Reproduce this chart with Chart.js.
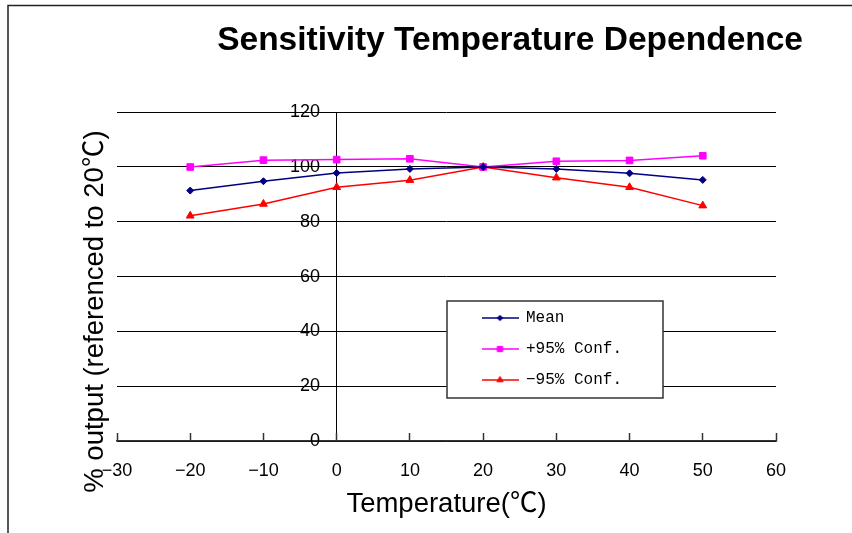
<!DOCTYPE html>
<html>
<head>
<meta charset="utf-8">
<script src="https://cdn.jsdelivr.net/npm/chart.js@4/dist/chart.umd.min.js"></script>
<style>
  html, body { margin: 0; padding: 0; background: #fff; }
  canvas { display: block; }
</style>
</head>
<body>
<canvas id="chart" width="852" height="533"></canvas>
<script>
// ---------------- data ----------------
const temperatures   = [-20, -10, 0, 10, 20, 30, 40, 50];
const meanValues     = [91.4, 94.8, 97.8, 99.3, 100, 99.3, 97.7, 95.3];
const plus95Values   = [100.0, 102.5, 102.7, 103.0, 100, 102.1, 102.4, 104.1];
const minus95Values  = [82.2, 86.5, 92.6, 95.2, 100, 96.1, 92.6, 85.9];
const seriesNames    = ['Mean', '+95% Conf.', '\u221295% Conf.'];
const xAxisRange     = [-30, 60, 10];   // min, max, step
const yAxisRange     = [0, 120, 20];    // min, max, step
const chartTitle     = 'Sensitivity Temperature Dependence';
const xAxisTitle     = 'Temperature(\u2103)';
const yAxisTitle     = '% output (referenced to 20\u2103)';

// ---------------- styling ----------------
const SANS = '"Liberation Sans", Arial, "Noto Sans CJK SC", sans-serif';
const MONO = '"Liberation Mono", "Courier New", monospace';
const seriesColors = ['#000080', '#FF00FF', '#FF0000'];
const seriesStyles = ['rectRot', 'rect', 'triangle'];
const seriesRadius = [3.5, 4.7, 4.5];
const LEGEND_FRAME = { left: 447, top: 301, right: 663, bottom: 398 };

Chart.defaults.color = '#000';
Chart.defaults.font.family = SANS;

function toPoints(values) {
  return temperatures.map((t, i) => ({ x: t, y: values[i] }));
}

function drawMarker(g, style, r, x, y) {
  g.beginPath();
  if (style === 'rectRot') {
    g.moveTo(x, y - r); g.lineTo(x + r, y); g.lineTo(x, y + r); g.lineTo(x - r, y);
  } else if (style === 'rect') {
    const s = Math.SQRT1_2 * r;
    g.rect(x - s, y - s, 2 * s, 2 * s);
  } else {
    const w = r * Math.sqrt(3) / 2;
    g.moveTo(x, y - r); g.lineTo(x + w, y + r / 2); g.lineTo(x - w, y + r / 2);
  }
  g.closePath();
  g.fill();
  g.stroke();
}

function legendSymbol(i) {
  const c = document.createElement('canvas');
  c.width = 37; c.height = 14;
  const g = c.getContext('2d');
  g.strokeStyle = seriesColors[i];
  g.fillStyle = seriesColors[i];
  g.lineWidth = 1.5;
  g.beginPath(); g.moveTo(0, 7); g.lineTo(37, 7); g.stroke();
  g.lineWidth = 1;
  drawMarker(g, seriesStyles[i], seriesRadius[i] * 0.8, 18.5, 7);
  return c;
}
const legendSymbols = [0, 1, 2].map(legendSymbol);

const seriesData = [meanValues, plus95Values, minus95Values];
const datasets = seriesData.map((vals, i) => ({
  label: seriesNames[i],
  data: toPoints(vals),
  borderColor: seriesColors[i],
  backgroundColor: seriesColors[i],
  borderWidth: 1.5,
  pointStyle: seriesStyles[i],
  pointRadius: seriesRadius[i],
  pointBorderWidth: 1,
  pointBackgroundColor: seriesColors[i],
  pointBorderColor: seriesColors[i],
  tension: 0,
  fill: false
}));

// ---------------- plugins ----------------
const outerFrame = {
  id: 'outerFrame',
  beforeDraw(chart) {
    const ctx = chart.ctx;
    ctx.save();
    ctx.fillStyle = '#fff';
    ctx.fillRect(0, 0, chart.width, chart.height);
    ctx.strokeStyle = '#222';
    ctx.lineWidth = 1.5;
    ctx.strokeRect(8, 5.5, chart.width + 20, chart.height + 20);
    ctx.restore();
  }
};

const legendBox = {
  id: 'legendBox',
  afterLayout(chart) {
    const lg = chart.legend;
    if (!lg) return;
    const w = lg.width, h = lg.height;
    lg.left = LEGEND_FRAME.left + 20;
    lg.top = LEGEND_FRAME.top - 6;
    lg.right = lg.left + w;
    lg.bottom = lg.top + h;
  },
  beforeDatasetsDraw(chart) {
    const ctx = chart.ctx;
    const f = LEGEND_FRAME;
    ctx.save();
    ctx.fillStyle = '#fff';
    ctx.fillRect(f.left, f.top, f.right - f.left, f.bottom - f.top);
    ctx.strokeStyle = '#333';
    ctx.lineWidth = 1.5;
    ctx.strokeRect(f.left, f.top, f.right - f.left, f.bottom - f.top);
    ctx.restore();
    chart.legend.draw();
  }
};

const yTitlePlugin = {
  id: 'yTitlePlugin',
  afterDraw(chart) {
    const { ctx, chartArea } = chart;
    ctx.save();
    ctx.translate(chartArea.left - 22, (chartArea.top + chartArea.bottom) / 2 + 35);
    ctx.rotate(-Math.PI / 2);
    ctx.font = '27.5px ' + SANS;
    ctx.fillStyle = '#000';
    ctx.textAlign = 'center';
    ctx.textBaseline = 'middle';
    ctx.fillText(yAxisTitle, 0, 0);
    ctx.restore();
  }
};

// ---------------- chart ----------------
new Chart(document.getElementById('chart'), {
  type: 'line',
  data: { datasets },
  plugins: [outerFrame, legendBox, yTitlePlugin],
  options: {
    responsive: false,
    animation: false,
    events: [],
    layout: { padding: { left: 117, right: 49, top: 0, bottom: 0 } },
    plugins: {
      title: {
        display: true,
        text: chartTitle,
        align: 'end',
        color: '#000',
        font: { family: SANS, size: 33.5, weight: 'bold' },
        padding: { top: 21, bottom: 51 }
      },
      legend: {
        display: true,
        position: 'chartArea',
        align: 'start',
        labels: {
          usePointStyle: true,
          pointStyleWidth: 36,
          padding: 15,
          color: '#000',
          font: { family: MONO, size: 16 },
          generateLabels(chart) {
            return chart.data.datasets.map((ds, i) => ({
              text: ds.label,
              pointStyle: legendSymbols[i],
              fillStyle: ds.borderColor,
              strokeStyle: ds.borderColor,
              lineWidth: 0,
              hidden: false,
              datasetIndex: i
            }));
          }
        }
      },
      tooltip: { enabled: false }
    },
    scales: {
      x: {
        type: 'linear',
        position: 'bottom',
        min: xAxisRange[0],
        max: xAxisRange[1],
        afterFit(s) { s.height = 92; },
        ticks: {
          stepSize: xAxisRange[2],
          padding: 27,
          color: '#000',
          font: { family: SANS, size: 18 },
          callback: v => String(v).replace('-', '\u2212')
        },
        grid: {
          drawOnChartArea: true,
          // only the value-axis crossing line (x = 0) is drawn across the plot
          color: ctx => (ctx.tick && ctx.tick.value === 0) ? '#000' : 'rgba(0,0,0,0)',
          lineWidth: 1,
          drawTicks: true,
          tickLength: -8,
          tickColor: '#333',
          tickWidth: 1.5
        },
        border: { display: true, color: '#333', width: 1.5 },
        title: {
          display: true,
          text: xAxisTitle,
          color: '#000',
          font: { family: SANS, size: 27.5 },
          padding: { top: 0, bottom: 12 }
        }
      },
      y: {
        type: 'linear',
        position: 'left',
        min: yAxisRange[0],
        max: yAxisRange[1],
        afterFit(s) {
          s.width = 0;
          s.paddingTop = 0; s.paddingBottom = 0;
          s.paddingLeft = 0; s.paddingRight = 0;
        },
        ticks: {
          stepSize: yAxisRange[2],
          mirror: true,
          crossAlign: 'far',
          padding: 173,
          color: '#000',
          font: { family: SANS, size: 18 }
        },
        grid: { color: '#000', lineWidth: 1, drawTicks: false },
        border: { display: false }
      },
      yPad: {
        type: 'linear',
        position: 'right',
        display: true,
        afterFit(s) { s.width = 27; },
        ticks: { display: false },
        grid: { display: false, drawTicks: false },
        border: { display: false }
      }
    }
  }
});
</script>
</body>
</html>
